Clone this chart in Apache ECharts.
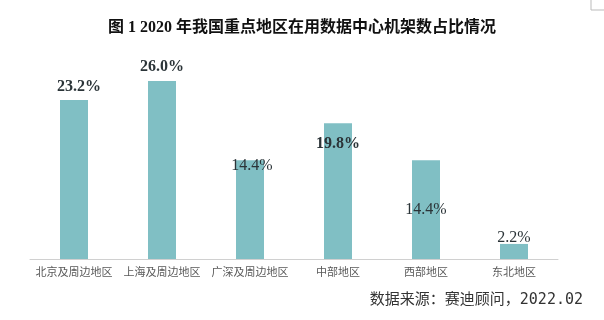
<!DOCTYPE html>
<html>
<head>
<meta charset="utf-8">
<script src="https://cdn.jsdelivr.net/npm/echarts@6/dist/echarts.min.js"></script>
<style>
  html, body { margin: 0; padding: 0; background: #fff; }
  #chart { width: 604px; height: 320px; }
</style>
</head>
<body>
<div id="chart"></div>
<script>
var regions = ['北京及周边地区', '上海及周边地区', '广深及周边地区', '中部地区', '西部地区', '东北地区'];
var shares = [23.2, 26.0, 14.4, 19.8, 14.4, 2.2];

// how each value label sits on its bar
var labelPlaces = [
    { position: 'top', distance: 5, offset: [5, 0], bold: true },
    { position: 'top', distance: 6, offset: [0, 0], bold: true },
    { position: 'insideTop', distance: 5, offset: [2, -8], bold: false },
    { position: 'insideTop', distance: 5, offset: [0, 7], bold: true },
    { position: 'inside', distance: 5, offset: [0, 0], bold: false },
    { position: 'top', distance: 5, offset: [0, 7], bold: false }
];

var chart = echarts.init(document.getElementById('chart'));

var barData = shares.map(function (v, i) {
    var p = labelPlaces[i];
    return {
        value: v,
        label: {
            position: p.position,
            distance: p.distance,
            offset: p.offset,
            fontWeight: p.bold ? 'bold' : 'normal'
        }
    };
});

var option = {
    backgroundColor: '#fff',
    title: {
        text: '图 1 2020 年我国重点地区在用数据中心机架数占比情况',
        left: 'center',
        top: 15,
        textStyle: {
            fontFamily: '"Liberation Serif", "Noto Sans CJK SC"',
            fontSize: 16,
            fontWeight: 'bold',
            color: '#111'
        }
    },
    grid: {
        left: 30,
        right: 46,
        top: 53.5,
        bottom: 61
    },
    xAxis: {
        type: 'category',
        data: regions,
        axisLine: { lineStyle: { color: '#d0d0d0' } },
        axisTick: { show: false },
        axisLabel: {
            interval: 0,
            margin: 7,
            fontSize: 11,
            color: '#595959',
            fontFamily: '"Noto Sans CJK SC"'
        }
    },
    yAxis: {
        type: 'value',
        min: 0,
        max: 30,
        show: false,
        splitLine: { show: false }
    },
    series: [{
        type: 'bar',
        data: barData,
        barWidth: 28,
        itemStyle: { color: '#80bfc4' },
        label: {
            show: true,
            formatter: function (p) { return p.value.toFixed(1) + '%'; },
            fontFamily: '"Liberation Serif"',
            fontSize: 16,
            color: '#2b3438'
        }
    }],
    graphic: [{
        type: 'text',
        right: 21,
        top: 293,
        style: {
            text: '数据来源：赛迪顾问，2022.02',
            fontFamily: '"DejaVu Sans Mono", "Noto Sans CJK SC"',
            fontSize: 15,
            fill: '#333'
        }
    }, {
        type: 'polyline',
        shape: { points: [[591, 0], [591, 10], [604, 10]] },
        style: { stroke: '#bbb', fill: null, lineWidth: 1 }
    }]
};

chart.setOption(option);
</script>
</body>
</html>
